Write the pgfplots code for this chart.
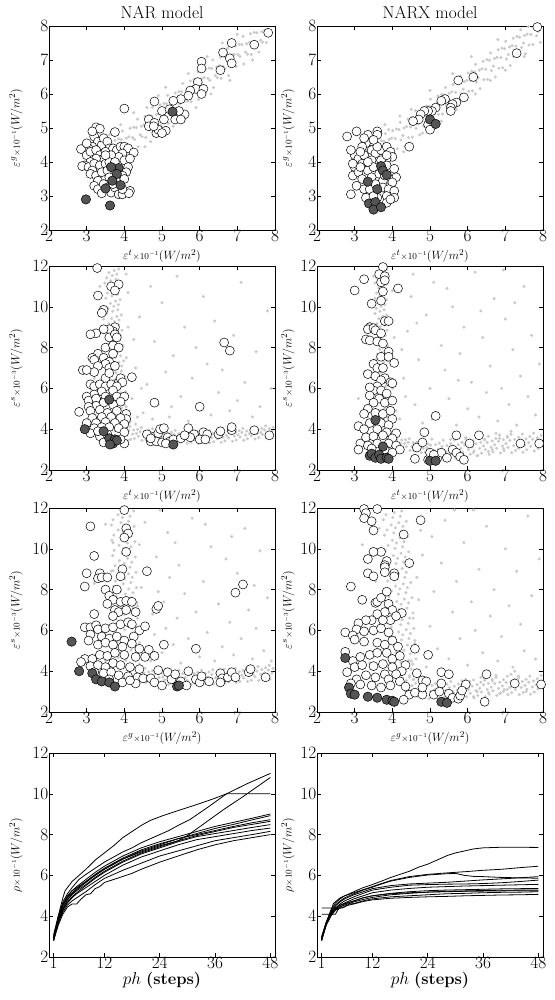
\documentclass[border=0pt]{standalone}
\usepackage{pgfplots}
\pgfplotsset{compat=1.18}
\definecolor{dotgray}{RGB}{202,202,202}
\definecolor{darkc}{RGB}{85,85,85}
\pgfplotsset{
  panel/.style={scale only axis, width=226pt, height=204pt, anchor=south west,
    axis line style={line width=0.7pt}, tick style={line width=0.5pt, black},
    major tick length=4pt, tick label style={font=\LARGE, inner sep=0.5pt},
    label style={font=\fontsize{13}{15}\selectfont, inner sep=0.5pt},
    xlabel style={at={(axis description cs:0.5,0)}, anchor=center, yshift=-26pt},
    title style={font=\LARGE, yshift=-2pt}, clip=true},
  leftcol/.style={ylabel style={at={(axis description cs:0,0.5)}, anchor=center, yshift=33pt}},
  rightcol/.style={ylabel style={at={(axis description cs:0,0.5)}, anchor=center, yshift=29pt}},
  scat/.style={panel, xmin=2, xmax=8, xtick={2,3,...,8}},
  gdot/.style={only marks, mark=*, mark size=1.35pt, color=dotgray},
  wcirc/.style={only marks, mark=*, mark size=4.5pt, mark options={fill=white, draw=black, line width=0.5pt}},
  dcirc/.style={only marks, mark=*, mark size=4.7pt, mark options={fill=darkc, draw=black, line width=0.5pt}},
  ln/.style={black, line width=0.8pt, no markers},
}
\begin{document}
\begin{tikzpicture}
\useasboundingbox (0,0) rectangle (554pt,1000pt);

% ---------------- row 1, NAR ----------------
\begin{axis}[scat, leftcol, at={(49pt,770pt)}, ymin=2, ymax=8, ytick={2,...,8},
  title={NAR model},
  xlabel={$\varepsilon^{t}{\scriptstyle\times10^{-1}}\bigl(W/m^{2}\bigr)$},
  ylabel={$\varepsilon^{g}{\scriptstyle\times10^{-1}}\bigl(W/m^{2}\bigr)$}]
\addplot[gdot] coordinates {
(3.37,3.68)(3.42,4.03)(3.45,4.33)(3.47,3.97)(3.52,4.32)(3.55,4.57)(3.57,3.75)(3.62,4.10)(3.65,4.35)
(3.67,4.04)(3.72,4.39)(3.75,4.64)(3.77,4.03)(3.82,4.38)(3.85,4.68)(3.87,4.31)(3.92,4.66)(3.95,4.91)
(3.97,4.10)(4.02,4.45)(4.05,4.70)(4.07,4.39)(4.12,4.74)(4.15,4.99)(4.17,4.37)(4.22,4.72)(4.25,5.02)
(4.27,4.66)(4.32,5.01)(4.35,5.26)(4.37,4.45)(4.42,4.80)(4.45,5.05)(4.47,4.74)(4.52,5.09)(4.55,5.34)
(4.57,4.72)(4.62,5.07)(4.65,5.37)(4.67,5.01)(4.72,5.36)(4.75,5.61)(4.77,4.80)(4.82,5.15)(4.85,5.40)
(4.87,5.08)(4.92,5.43)(4.95,5.68)(4.97,5.07)(5.02,5.42)(5.05,5.72)(5.07,5.36)(5.12,5.71)(5.15,5.96)
(5.17,5.14)(5.22,5.49)(5.25,5.74)(5.27,5.43)(5.32,5.78)(5.35,6.03)(5.37,5.42)(5.42,5.77)(5.45,6.07)
(5.47,5.71)(5.52,6.06)(5.55,6.31)(5.57,5.49)(5.62,5.84)(5.65,6.09)(5.67,5.78)(5.72,6.13)(5.75,6.38)
(5.77,5.77)(5.82,6.12)(5.85,6.42)(5.87,6.05)(5.92,6.40)(5.95,6.65)(5.97,5.84)(6.02,6.19)(6.05,6.44)
(6.07,6.13)(6.12,6.48)(6.15,6.73)(6.17,6.11)(6.22,6.46)(6.25,6.76)(6.27,6.40)(6.32,6.75)(6.35,7.00)
(6.37,6.19)(6.42,6.54)(6.45,6.79)(6.47,6.48)(6.52,6.83)(6.55,7.08)(6.57,6.46)(6.62,6.81)(6.65,7.11)
(6.67,6.75)(6.72,7.10)(6.75,7.35)(6.77,6.54)(6.82,6.89)(6.85,7.14)(6.87,6.82)(6.92,7.17)(6.95,7.42)
(6.97,6.81)(7.02,7.16)(7.05,7.46)(7.07,7.10)(7.12,7.45)(7.15,7.70)(7.17,6.88)(7.22,7.23)(7.25,7.48)
(7.27,7.17)(7.32,7.52)(7.35,7.77)(7.37,7.16)(7.42,7.51)(7.45,7.81)(7.47,7.45)(7.52,7.80)
(7.57,7.23)(7.62,7.58)(7.65,7.83)(7.67,7.52)(7.72,7.87)(7.77,7.51)(7.82,7.86)(7.87,7.79)
(3.3,4.5)(3.45,4.75)(3.2,4.1)(3.9,5.1)(4.25,5.45)(4.6,5.6)(4.55,4.45)(5.3,5.05)(5.5,5.3)(5.9,5.6)
(6.3,6.0)(4.1,4.0)(4.7,4.6)(6.8,6.4)(7.4,7.0)(5.1,6.2)(5.7,6.6)(6.2,7.1)(7.0,7.75)(3.6,4.8)(4.9,5.95)(6.6,7.5)
};
\addplot[wcirc] coordinates {
(7.82,7.8)(7.45,7.45)(6.85,7.5)(6.8,7.05)(6.85,6.9)(6.62,7.22)(6.55,6.7)(6.05,6.95)(6.05,6.75)
(5.95,6.35)(5.9,6.15)(6.1,6.15)(6.05,6.0)(5.75,6.1)(5.7,5.95)(5.5,5.85)(5.6,5.4)(5.3,5.8)(5.0,5.5)
(5.2,5.55)(5.45,5.5)(5.35,5.25)(5.5,5.25)(4.8,5.78)(4.0,5.57)(4.65,5.25)(4.65,5.05)(4.8,5.15)
(4.85,4.85)(4.9,4.95)(5.1,4.92)(5.0,4.85)(5.05,5.25)(4.78,5.05)
(3.25,5.02)(3.35,4.98)(3.2,4.75)(3.3,4.6)(3.4,4.5)(3.45,4.7)(3.55,4.6)(3.6,4.4)(3.15,4.45)(3.05,4.4)
(2.85,4.38)(3.0,4.2)(3.1,4.3)(3.25,4.35)(3.35,4.2)(3.5,4.3)(3.7,4.4)(3.8,4.35)(3.9,4.45)(4.0,4.45)
(4.1,4.4)(4.25,4.28)(3.95,4.25)(3.85,4.15)(3.65,4.2)(3.45,4.1)(3.25,4.1)(3.1,4.0)(2.95,3.9)(2.88,3.88)
(3.05,3.85)(3.2,3.95)(3.35,3.9)(3.5,3.95)(3.6,4.0)(3.75,4.0)(4.0,4.05)(4.15,4.1)(4.1,3.85)(4.05,3.7)
(3.95,3.6)(4.0,3.5)(3.15,3.75)(3.1,3.65)(3.25,3.6)(3.4,3.7)(3.55,3.75)(3.3,3.45)(3.2,3.3)(3.3,3.2)
(3.45,3.35)(3.55,3.25)(3.65,3.1)(3.4,3.08)(3.75,3.25)(3.85,3.05)(3.95,3.05)(4.15,3.15)(4.12,3.08)
(3.95,3.2)(3.75,4.88)(3.5,4.2)(3.6,3.55)(3.7,3.35)(3.0,4.55)(3.15,4.9)
};
\addplot[dcirc] coordinates {
(5.28,5.48)(3.85,3.82)(3.65,3.85)(3.8,3.65)(3.68,3.45)(3.9,3.32)(3.5,3.22)(2.98,2.9)(3.62,2.72)
};
\end{axis}

% ---------------- row 1, NARX ----------------
\begin{axis}[scat, rightcol, at={(317pt,770pt)}, ymin=2, ymax=8, ytick={2,...,8},
  title={NARX model},
  xlabel={$\varepsilon^{t}{\scriptstyle\times10^{-1}}\bigl(W/m^{2}\bigr)$},
  ylabel={$\varepsilon^{g}{\scriptstyle\times10^{-1}}\bigl(W/m^{2}\bigr)$}]
\addplot[gdot] coordinates {
(3.53,3.78)(3.48,4.10)(3.51,4.32)(3.63,4.04)(3.58,4.36)(3.61,4.58)(3.73,4.05)(3.68,4.35)(3.71,4.63)
(3.83,4.31)(3.78,4.61)(3.81,4.83)(3.93,4.12)(3.88,4.44)(3.91,4.66)(4.03,4.38)(3.98,4.70)(4.01,4.92)
(4.13,4.39)(4.08,4.69)(4.11,4.97)(4.23,4.65)(4.18,4.95)(4.21,5.17)(4.33,4.46)(4.28,4.78)(4.31,5.00)
(4.43,4.72)(4.38,5.04)(4.41,5.26)(4.53,4.73)(4.48,5.03)(4.51,5.31)(4.63,4.99)(4.58,5.29)(4.61,5.51)
(4.73,4.80)(4.68,5.12)(4.71,5.34)(4.83,5.06)(4.78,5.38)(4.81,5.60)(4.93,5.07)(4.88,5.37)(4.91,5.65)
(5.03,5.33)(4.98,5.63)(5.01,5.85)(5.13,5.14)(5.08,5.46)(5.11,5.68)(5.23,5.40)(5.18,5.72)(5.21,5.94)
(5.33,5.41)(5.28,5.71)(5.31,5.99)(5.43,5.67)(5.38,5.97)(5.41,6.19)(5.53,5.48)(5.48,5.80)(5.51,6.02)
(5.63,5.74)(5.58,6.06)(5.61,6.28)(5.73,5.75)(5.68,6.05)(5.71,6.33)(5.83,6.01)(5.78,6.31)(5.81,6.53)
(5.93,5.82)(5.88,6.14)(5.91,6.36)(6.03,6.08)(5.98,6.40)(6.01,6.62)(6.13,6.09)(6.08,6.39)(6.11,6.67)
(6.23,6.35)(6.18,6.65)(6.21,6.87)(6.33,6.16)(6.28,6.48)(6.31,6.70)(6.43,6.42)(6.38,6.74)(6.41,6.96)
(6.53,6.43)(6.48,6.73)(6.51,7.01)(6.63,6.69)(6.58,6.99)(6.61,7.21)(6.73,6.50)(6.68,6.82)(6.71,7.04)
(6.83,6.76)(6.78,7.08)(6.81,7.30)(6.93,6.77)(6.88,7.07)(6.91,7.35)(7.03,7.03)(6.98,7.33)(7.01,7.55)
(7.13,6.84)(7.08,7.16)(7.11,7.38)(7.23,7.10)(7.18,7.42)(7.21,7.64)(7.33,7.11)(7.28,7.41)(7.31,7.69)
(7.43,7.37)(7.38,7.67)(7.41,7.89)(7.53,7.18)(7.48,7.50)(7.51,7.72)(7.63,7.44)(7.58,7.76)(7.61,7.98)
(7.73,7.45)(7.68,7.75)(7.83,7.71)(7.93,7.52)(7.88,7.84)
(3.4,4.6)(3.55,4.75)(3.7,4.85)(3.9,4.95)(3.3,4.35)(4.2,5.35)(4.5,5.55)(4.3,4.3)(4.8,4.85)(5.3,5.2)
(5.7,5.55)(6.2,6.0)(6.6,6.4)(7.0,6.7)(7.5,7.1)(5.0,6.1)(5.6,6.6)(6.1,7.1)(6.8,7.6)(4.0,4.2)(3.8,5.1)
};
\addplot[wcirc] coordinates {
(7.85,7.97)(7.3,7.2)(6.15,6.5)(5.75,6.4)(5.9,5.9)(5.7,5.75)(5.6,5.7)(5.55,5.6)(5.55,5.5)(5.4,5.85)
(5.3,5.8)(5.15,5.6)(5.05,5.5)(4.95,5.5)(4.85,5.5)(4.75,5.4)(4.7,5.25)(4.55,5.2)(4.95,5.1)(5.0,4.95)
(4.45,4.45)(2.8,4.75)(3.05,4.9)(3.6,4.9)(3.6,4.8)(3.35,4.8)(3.45,4.6)(3.3,4.55)(3.2,4.45)(3.0,4.2)
(2.9,4.35)(3.1,4.1)(3.25,4.2)(3.45,4.35)(3.55,4.25)(3.7,4.35)(3.85,4.45)(3.95,4.3)(4.0,4.15)(3.85,4.1)
(3.7,4.05)(3.45,4.05)(3.2,3.95)(3.0,3.85)(2.95,3.6)(3.1,3.7)(3.35,3.75)(3.5,3.85)(3.65,3.65)(3.85,3.9)
(4.05,3.8)(4.1,3.55)(3.9,3.5)(4.0,3.4)(3.75,3.45)(3.45,3.55)(3.2,3.5)(3.05,3.3)(2.9,3.05)(3.25,3.2)
(3.4,3.2)(3.55,3.35)(3.75,3.25)(3.9,3.2)(4.05,3.15)(4.05,2.95)(3.85,3.0)(3.6,2.95)(3.3,2.95)(3.85,2.8)
(3.5,3.0)(3.95,2.9)(3.15,3.85)(3.35,4.0)(3.6,4.45)(3.85,4.2)(3.25,4.7)(3.5,4.65)(3.15,4.3)(2.95,3.95)(3.8,3.6)
};
\addplot[dcirc] coordinates {
(5.0,5.25)(5.15,5.12)(3.7,3.88)(3.75,3.75)(3.85,3.62)(3.35,3.42)(3.6,3.2)(3.38,2.78)(3.55,2.82)(3.5,2.6)(3.7,2.67)
};
\end{axis}

% ---------------- row 2, NAR ----------------
\begin{axis}[scat, leftcol, at={(49pt,530pt)}, ymin=2, ymax=12, ytick={2,4,...,12},
  xlabel={$\varepsilon^{t}{\scriptstyle\times10^{-1}}\bigl(W/m^{2}\bigr)$},
  ylabel={$\varepsilon^{s}{\scriptstyle\times10^{-3}}\bigl(W/m^{2}\bigr)$}]
\addplot[gdot] coordinates {
(3.75,3.92)(3.90,4.03)(4.02,4.10)(3.81,4.17)(3.95,4.28)(4.07,4.35)(3.69,4.42)(3.85,4.53)(3.99,4.60)
(3.73,4.67)(3.88,4.78)(4.00,4.85)(3.79,4.92)(3.93,5.03)(4.05,5.10)(3.66,5.17)(3.82,5.28)(3.96,5.35)
(3.71,5.42)(3.86,5.53)(3.98,5.60)(3.77,5.67)(3.91,5.78)(4.03,5.85)(3.64,5.92)(3.80,6.03)(3.94,6.10)
(3.68,6.17)(3.83,6.28)(3.95,6.35)(3.75,6.42)(3.89,6.53)(4.01,6.60)(3.62,6.67)(3.78,6.78)(3.92,6.85)
(3.66,6.92)(3.81,7.03)(3.93,7.10)(3.72,7.17)(3.86,7.28)(3.98,7.35)(3.60,7.42)(3.76,7.53)(3.90,7.60)
(3.64,7.67)(3.79,7.78)(3.91,7.85)(3.70,7.92)(3.84,8.03)(3.96,8.10)(3.57,8.17)(3.73,8.28)(3.87,8.35)
(3.62,8.42)(3.77,8.53)(3.89,8.60)(3.68,8.67)(3.82,8.78)(3.94,8.85)(3.55,8.92)(3.71,9.03)(3.85,9.10)
(3.59,9.17)(3.74,9.28)(3.86,9.35)(3.66,9.42)(3.80,9.53)(3.92,9.60)(3.53,9.67)(3.69,9.78)(3.83,9.85)
(3.57,9.92)(3.72,10.03)(3.84,10.10)(3.63,10.17)(3.77,10.28)(3.89,10.35)(3.51,10.42)(3.67,10.53)(3.81,10.60)
(3.55,10.67)(3.70,10.78)(3.82,10.85)(3.61,10.92)(3.75,11.03)(3.87,11.10)(3.48,11.17)(3.64,11.28)(3.78,11.35)
(3.53,11.42)(3.68,11.53)(3.80,11.60)(3.59,11.67)(3.73,11.78)(3.85,11.85)
(3.97,3.60)(4.02,3.85)(4.05,4.05)(4.07,3.71)(4.12,3.93)(4.15,4.13)(4.17,3.51)(4.22,3.76)(4.25,3.96)
(4.27,3.54)(4.32,3.79)(4.35,3.99)(4.37,3.65)(4.42,3.87)(4.45,4.07)(4.47,3.45)(4.52,3.70)(4.55,3.90)
(4.57,3.49)(4.62,3.74)(4.65,3.94)(4.67,3.60)(4.72,3.82)(4.75,4.02)(4.77,3.41)(4.82,3.66)(4.85,3.86)
(4.87,3.44)(4.92,3.69)(4.95,3.89)(4.97,3.56)(5.02,3.78)(5.05,3.98)(5.07,3.37)(5.12,3.62)(5.15,3.82)
(5.17,3.40)(5.22,3.65)(5.25,3.85)(5.27,3.52)(5.32,3.74)(5.35,3.94)(5.37,3.33)(5.42,3.58)(5.45,3.78)
(5.47,3.37)(5.52,3.62)(5.55,3.82)(5.57,3.50)(5.62,3.72)(5.65,3.92)(5.67,3.31)(5.72,3.56)(5.75,3.76)
(5.77,3.36)(5.82,3.61)(5.85,3.81)(5.87,3.48)(5.92,3.70)(5.95,3.90)(5.97,3.30)(6.02,3.55)(6.05,3.75)
(6.07,3.36)(6.12,3.61)(6.15,3.81)(6.17,3.50)(6.22,3.72)(6.25,3.92)(6.27,3.33)(6.32,3.58)(6.35,3.78)
(6.37,3.39)(6.42,3.64)(6.45,3.84)(6.47,3.53)(6.52,3.75)(6.55,3.95)(6.57,3.36)(6.62,3.61)(6.65,3.81)
(6.67,3.43)(6.72,3.68)(6.75,3.88)(6.77,3.57)(6.82,3.79)(6.85,3.99)(6.87,3.41)(6.92,3.66)(6.95,3.86)
(6.97,3.47)(7.02,3.72)(7.05,3.92)(7.07,3.62)(7.12,3.84)(7.15,4.04)(7.17,3.46)(7.22,3.71)(7.25,3.91)
(7.27,3.53)(7.32,3.78)(7.35,3.98)(7.37,3.68)(7.42,3.90)(7.45,4.10)(7.47,3.52)(7.52,3.77)(7.55,3.97)
(7.57,3.59)(7.62,3.84)(7.65,4.04)(7.67,3.74)(7.72,3.96)(7.75,4.16)(7.77,3.58)(7.82,3.83)(7.85,4.03)
(7.87,3.65)(7.92,3.90)(7.95,4.10)(4.05,4.3)(4.1,3.45)(4.15,4.35)(4.3,4.25)
(4.2,5.5)(4.3,7.0)(4.4,9.5)(4.5,4.8)(4.6,6.2)(4.7,11.0)(4.8,8.3)(4.9,5.2)(5.0,10.2)(5.1,6.8)(5.2,4.6)
(5.3,7.6)(5.4,11.5)(5.5,5.6)(5.6,9.0)(5.7,4.4)(5.8,6.5)(5.9,8.0)(6.0,5.0)(6.1,10.5)(6.2,7.2)(6.3,4.7)
(6.4,9.3)(6.5,5.8)(6.6,6.9)(6.8,4.9)(6.9,8.6)(7.0,5.4)(7.1,11.2)(7.2,6.3)(7.4,4.6)(7.5,7.8)(7.6,5.1)
(7.8,9.8)(7.9,6.0)(4.15,4.4)(4.25,8.4)(4.45,6.0)(4.1,10.7)(4.35,4.6)(3.3,7.8)(3.4,5.5)(3.45,9.4)
(3.2,6.5)(3.35,11.0)(4.05,7.5)(4.1,9.0)(4.0,5.2)(4.05,11.6)(5.25,5.1)(4.75,4.5)
};
\addplot[wcirc] coordinates {
(3.28,11.9)(3.65,11.0)(3.85,11.1)(3.75,10.8)(3.3,10.55)(3.45,9.85)(3.4,9.7)(3.75,9.0)(3.7,8.8)(3.6,8.9)
(3.45,8.9)(3.25,8.7)(3.1,8.65)(3.6,8.5)(3.75,8.65)(3.8,8.5)(3.5,8.0)(3.7,8.1)(3.85,8.0)(3.3,7.7)
(3.45,7.5)(3.15,7.5)(3.2,7.4)(3.6,7.3)(3.7,7.7)(3.5,7.2)(3.3,7.1)(3.6,7.0)(3.75,7.1)(3.2,6.8)(2.9,6.9)
(3.0,6.9)(3.5,6.5)(3.6,6.75)(3.85,6.3)(3.9,6.5)(3.95,6.3)(4.2,6.55)(3.1,6.2)(3.2,6.1)(3.35,6.2)(3.5,6.1)
(3.65,6.2)(3.8,6.1)(3.7,5.9)(3.4,5.85)(3.2,5.7)(3.0,5.6)(3.05,5.4)(3.25,5.5)(3.5,5.6)(3.8,5.6)(4.0,5.6)
(3.9,5.35)(3.7,5.2)(3.45,5.3)(3.25,5.15)(3.05,5.1)(2.8,4.85)(3.1,4.9)(3.35,4.95)(3.55,4.8)(3.8,4.9)
(4.05,4.75)(4.05,4.5)(3.9,4.55)(3.65,4.6)(3.4,4.6)(3.15,4.55)(3.0,4.3)(3.25,4.3)(3.5,4.35)(3.75,4.3)
(4.0,4.25)(3.2,4.05)(3.4,4.1)(3.1,3.8)(3.35,3.65)(3.3,3.9)(3.6,4.1)(3.85,4.05)(4.0,3.85)(3.55,3.75)
(4.0,3.3)(3.9,3.5)(3.45,3.35)(4.8,5.3)(6.65,8.25)(6.8,7.85)(6.0,5.1)
(4.6,3.75)(4.7,3.4)(4.8,3.65)(4.9,3.8)(4.95,4.0)(5.05,4.05)(4.85,3.4)(5.0,3.35)(5.15,3.6)(5.2,3.4)
(5.3,3.5)(5.5,3.55)(5.7,4.05)(5.85,3.75)(5.75,3.6)(6.1,3.85)(6.2,3.75)(6.0,3.5)(6.15,3.5)(6.5,3.75)
(6.55,3.9)(6.85,3.95)(6.85,4.1)(7.45,3.95)(7.85,3.7)(4.7,3.55)(5.1,3.3)(5.6,3.7)
};
\addplot[dcirc] coordinates {
(2.95,4.0)(3.6,5.45)(3.45,3.9)(3.6,3.55)(3.7,3.3)(3.75,3.5)(3.8,3.45)(3.62,3.25)(5.3,3.25)
};
\end{axis}

% ---------------- row 2, NARX ----------------
\begin{axis}[scat, rightcol, at={(317pt,530pt)}, ymin=2, ymax=12, ytick={2,4,...,12},
  xlabel={$\varepsilon^{t}{\scriptstyle\times10^{-1}}\bigl(W/m^{2}\bigr)$},
  ylabel={$\varepsilon^{s}{\scriptstyle\times10^{-3}}\bigl(W/m^{2}\bigr)$}]
\addplot[gdot] coordinates {
(3.81,3.17)(3.93,3.28)(4.03,3.35)(3.84,3.42)(3.95,3.53)(4.05,3.60)(3.72,3.67)(3.85,3.78)(3.96,3.85)
(3.73,3.92)(3.85,4.03)(3.95,4.10)(3.77,4.17)(3.88,4.28)(3.98,4.35)(3.64,4.42)(3.77,4.53)(3.88,4.60)
(3.66,4.67)(3.78,4.78)(3.88,4.85)(3.69,4.92)(3.80,5.03)(3.90,5.10)(3.59,5.17)(3.72,5.28)(3.83,5.35)
(3.63,5.42)(3.75,5.53)(3.85,5.60)(3.68,5.67)(3.79,5.78)(3.89,5.85)(3.58,5.92)(3.71,6.03)(3.82,6.10)
(3.62,6.17)(3.74,6.28)(3.84,6.35)(3.67,6.42)(3.78,6.53)(3.88,6.60)(3.57,6.67)(3.70,6.78)(3.81,6.85)
(3.61,6.92)(3.73,7.03)(3.83,7.10)(3.66,7.17)(3.77,7.28)(3.87,7.35)(3.56,7.42)(3.69,7.53)(3.80,7.60)
(3.60,7.67)(3.72,7.78)(3.82,7.85)(3.66,7.92)(3.77,8.03)(3.87,8.10)(3.55,8.17)(3.68,8.28)(3.79,8.35)
(3.59,8.42)(3.71,8.53)(3.81,8.60)(3.65,8.67)(3.76,8.78)(3.86,8.85)(3.55,8.92)(3.68,9.03)(3.79,9.10)
(3.59,9.17)(3.71,9.28)(3.81,9.35)(3.64,9.42)(3.75,9.53)(3.85,9.60)(3.54,9.67)(3.67,9.78)(3.78,9.85)
(3.58,9.92)(3.70,10.03)(3.80,10.10)(3.64,10.17)(3.75,10.28)(3.85,10.35)(3.54,10.42)(3.67,10.53)(3.78,10.60)
(3.58,10.67)(3.70,10.78)(3.80,10.85)(3.64,10.92)(3.75,11.03)(3.85,11.10)(3.54,11.17)(3.67,11.28)(3.78,11.35)
(3.58,11.42)(3.70,11.53)(3.80,11.60)(3.64,11.67)(3.75,11.78)(3.85,11.85)
(3.97,3.24)(4.02,3.45)(4.05,3.63)(4.07,3.28)(4.12,3.49)(4.15,3.67)(4.17,3.08)(4.22,3.29)(4.25,3.47)
(4.27,3.09)(4.32,3.30)(4.35,3.48)(4.37,3.14)(4.42,3.35)(4.45,3.53)(4.47,2.95)(4.52,3.16)(4.55,3.34)
(4.57,2.97)(4.62,3.18)(4.65,3.36)(4.67,3.03)(4.72,3.24)(4.75,3.42)(4.77,2.85)(4.82,3.06)(4.85,3.24)
(4.87,2.88)(4.92,3.09)(4.95,3.27)(4.97,2.86)(5.02,3.21)(5.05,3.51)(5.07,2.59)(5.12,2.94)(5.15,3.24)
(5.17,2.67)(5.22,3.02)(5.25,3.32)(5.27,2.81)(5.32,3.16)(5.35,3.46)(5.37,2.55)(5.42,2.90)(5.45,3.20)
(5.47,2.65)(5.52,3.00)(5.55,3.30)(5.57,2.82)(5.62,3.17)(5.65,3.47)(5.67,2.59)(5.72,2.94)(5.75,3.24)
(5.77,2.71)(5.82,3.06)(5.85,3.36)(5.87,2.88)(5.92,3.23)(5.95,3.53)(5.97,2.65)(6.02,3.00)(6.05,3.30)
(6.07,2.77)(6.12,3.12)(6.15,3.42)(6.17,2.94)(6.22,3.29)(6.25,3.59)(6.27,2.71)(6.32,3.06)(6.35,3.36)
(6.37,2.83)(6.42,3.18)(6.45,3.48)(6.47,3.00)(6.52,3.35)(6.55,3.65)(6.57,2.77)(6.62,3.12)(6.65,3.42)
(6.67,2.89)(6.72,3.24)(6.75,3.54)(6.77,3.06)(6.82,3.41)(6.85,3.71)(6.87,2.83)(6.92,3.18)(6.95,3.48)
(6.97,2.95)(7.02,3.30)(7.05,3.60)(7.07,3.10)(7.12,3.45)(7.15,3.75)(7.17,2.85)(7.22,3.20)(7.25,3.50)
(7.27,2.95)(7.32,3.30)(7.35,3.60)(7.37,3.11)(7.42,3.46)(7.45,3.76)(7.47,2.87)(7.52,3.22)(7.55,3.52)
(7.57,2.99)(7.62,3.34)(7.65,3.64)(7.67,3.16)(7.72,3.51)(7.75,3.81)(7.77,2.93)(7.82,3.28)(7.85,3.58)
(7.87,3.05)(7.92,3.40)(7.95,3.70)
(5.55,3.5)(5.75,2.75)(5.95,3.6)(6.15,2.85)(6.35,3.75)(6.55,2.9)(6.75,3.8)(6.95,3.05)(7.15,3.9)(7.35,3.05)
(6.05,3.45)(6.45,3.5)(6.85,3.55)(5.85,3.35)(6.25,2.7)(6.65,3.0)(7.05,3.65)(7.45,3.4)
(4.2,4.5)(4.3,6.5)(4.4,8.8)(4.5,10.5)(4.6,5.2)(4.7,7.4)(4.8,4.3)(4.9,9.6)(5.0,6.0)(5.1,11.2)(5.2,4.8)
(5.3,8.1)(5.4,6.9)(5.5,5.5)(5.6,10.0)(5.7,4.2)(5.8,7.7)(5.9,9.0)(6.0,5.0)(6.1,6.3)(6.2,11.7)(6.3,4.6)
(6.4,8.5)(6.5,5.8)(6.6,7.1)(6.7,10.4)(6.8,4.4)(6.9,6.0)(7.0,9.4)(7.1,5.2)(7.2,7.9)(7.3,4.2)(7.4,6.6)
(7.5,11.0)(7.6,5.6)(7.7,8.6)(7.8,4.7)(7.9,7.2)(4.25,7.9)(4.35,5.6)(4.55,11.6)(4.65,9.2)(5.05,4.5)
(5.45,10.9)(5.75,6.4)(6.35,9.8)(6.95,11.8)(7.25,10.2)(3.35,4.6)(3.25,6.8)(3.4,9.2)(3.1,5.5)(3.5,11.5)
(4.0,6.0)(4.05,8.5)(4.0,10.8)(4.1,4.9)
};
\addplot[wcirc] coordinates {
(3.0,10.8)(3.25,11.35)(3.75,11.95)(3.65,11.6)(3.8,11.5)(3.7,11.2)(3.8,11.3)(3.75,10.75)(3.7,10.3)
(4.15,10.9)(3.45,10.15)(3.8,9.3)(3.9,9.3)(3.4,9.0)(3.35,8.9)(3.5,8.95)(3.55,8.85)(3.7,8.7)(3.3,8.4)
(3.4,8.35)(3.6,8.3)(3.75,8.2)(3.9,7.8)(3.7,7.55)(3.9,7.55)(4.05,7.25)(3.5,7.2)(3.6,7.0)(3.75,7.0)
(3.35,6.7)(3.55,6.6)(3.8,6.5)(3.7,6.4)(3.95,6.3)(4.0,6.25)(3.6,6.1)(3.5,5.9)(3.7,5.9)(3.85,5.75)
(3.4,6.05)(3.4,5.65)(3.65,5.5)(3.5,5.3)(3.8,5.3)(4.0,5.4)(3.35,5.0)(3.25,4.75)(3.55,4.8)(3.75,4.75)
(3.95,4.9)(4.0,4.5)(3.1,4.15)(3.4,4.3)(3.7,4.3)(3.9,4.2)(3.25,4.0)(3.6,4.0)(3.85,3.85)(4.1,3.8)
(3.15,3.3)(3.3,3.6)(3.5,3.65)(3.75,3.7)(4.0,3.55)(3.1,3.0)(3.35,3.2)(3.6,3.3)(3.9,3.3)(4.1,3.2)
(4.2,3.0)(3.45,3.05)(3.8,3.0)(4.0,2.85)
(4.6,2.55)(4.65,3.1)(4.8,3.35)(4.85,3.85)(4.95,2.5)(5.0,2.85)(5.15,4.65)(5.2,2.6)(5.3,2.85)(5.45,2.6)
(5.6,3.0)(5.7,3.7)(5.7,2.85)(5.8,2.65)(5.9,2.5)(6.05,3.3)(6.3,3.7)(7.4,3.3)(7.9,3.3)(5.1,2.75)
};
\addplot[dcirc] coordinates {
(3.55,4.45)(3.4,2.7)(3.45,2.8)(3.55,2.6)(3.65,2.75)(3.75,3.15)(3.7,2.55)(3.85,2.6)(3.9,2.55)(5.0,2.45)(5.15,2.45)
};
\end{axis}

% ---------------- row 3, NAR ----------------
\begin{axis}[scat, leftcol, at={(49pt,288pt)}, ymin=2, ymax=12, ytick={2,4,...,12},
  xlabel={$\varepsilon^{g}{\scriptstyle\times10^{-1}}\bigl(W/m^{2}\bigr)$},
  ylabel={$\varepsilon^{s}{\scriptstyle\times10^{-3}}\bigl(W/m^{2}\bigr)$}]
\addplot[gdot] coordinates {
(3.85,3.92)(4.10,4.03)(4.30,4.10)(3.98,4.17)(4.20,4.28)(4.40,4.35)(3.79,4.42)(4.04,4.53)(4.24,4.60)
(3.84,4.67)(4.09,4.78)(4.29,4.85)(3.96,4.92)(4.18,5.03)(4.38,5.10)(3.78,5.17)(4.03,5.28)(4.23,5.35)
(3.82,5.42)(4.07,5.53)(4.27,5.60)(3.95,5.67)(4.17,5.78)(4.37,5.85)(3.76,5.92)(4.01,6.03)(4.21,6.10)
(3.81,6.17)(4.06,6.28)(4.26,6.35)(3.93,6.42)(4.15,6.53)(4.35,6.60)(3.75,6.67)(4.00,6.78)(4.20,6.85)
(3.79,6.92)(4.04,7.03)(4.24,7.10)(3.92,7.17)(4.14,7.28)(4.34,7.35)(3.73,7.42)(3.98,7.53)(4.18,7.60)
(3.78,7.67)(4.03,7.78)(4.23,7.85)(3.90,7.92)(4.12,8.03)(4.32,8.10)(3.72,8.17)(3.97,8.28)(4.17,8.35)
(3.76,8.42)(4.01,8.53)(4.21,8.60)(3.89,8.67)(4.11,8.78)(4.31,8.85)(3.70,8.92)(3.95,9.03)(4.15,9.10)
(3.75,9.17)(4.00,9.28)(4.20,9.35)(3.87,9.42)(4.09,9.53)(4.29,9.60)(3.69,9.67)(3.94,9.78)(4.14,9.85)
(3.73,9.92)(3.98,10.03)(4.18,10.10)(3.86,10.17)(4.08,10.28)(4.28,10.35)(3.67,10.42)(3.92,10.53)(4.12,10.60)
(3.72,10.67)(3.97,10.78)(4.17,10.85)(3.84,10.92)(4.06,11.03)(4.26,11.10)(3.66,11.17)(3.91,11.28)(4.11,11.35)
(3.70,11.42)(3.95,11.53)(4.15,11.60)(3.83,11.67)(4.05,11.78)(4.25,11.85)
(4.37,3.52)(4.42,3.82)(4.45,4.07)(4.47,3.65)(4.52,3.92)(4.55,4.15)(4.57,3.43)(4.62,3.73)(4.65,3.96)
(4.67,3.47)(4.72,3.77)(4.75,4.02)(4.77,3.60)(4.82,3.87)(4.85,4.10)(4.87,3.39)(4.92,3.69)(4.95,3.92)
(4.97,3.42)(5.02,3.72)(5.05,3.97)(5.07,3.57)(5.12,3.84)(5.15,4.07)(5.17,3.36)(5.22,3.66)(5.25,3.89)
(5.27,3.41)(5.32,3.71)(5.35,3.96)(5.37,3.55)(5.42,3.82)(5.45,4.05)(5.47,3.35)(5.52,3.65)(5.55,3.88)
(5.57,3.40)(5.62,3.70)(5.65,3.95)(5.67,3.55)(5.72,3.82)(5.75,4.05)(5.77,3.35)(5.82,3.65)(5.85,3.88)
(5.87,3.40)(5.92,3.70)(5.95,3.95)(5.97,3.55)(6.02,3.82)(6.05,4.05)(6.07,3.36)(6.12,3.66)(6.15,3.89)
(6.17,3.41)(6.22,3.71)(6.25,3.96)(6.27,3.57)(6.32,3.84)(6.35,4.07)(6.37,3.38)(6.42,3.68)(6.45,3.91)
(6.47,3.44)(6.52,3.74)(6.55,3.99)(6.57,3.60)(6.62,3.87)(6.65,4.10)(6.67,3.41)(6.72,3.71)(6.75,3.94)
(6.77,3.47)(6.82,3.77)(6.85,4.02)(6.87,3.63)(6.92,3.90)(6.95,4.13)(6.97,3.44)(7.02,3.74)(7.05,3.97)
(7.07,3.50)(7.12,3.80)(7.15,4.05)(7.17,3.67)(7.22,3.94)(7.25,4.17)(7.27,3.49)(7.32,3.79)(7.35,4.02)
(7.37,3.56)(7.42,3.86)(7.45,4.11)(7.47,3.73)(7.52,4.00)(7.55,4.23)(7.57,3.55)(7.62,3.85)(7.65,4.08)
(7.67,3.62)(7.72,3.92)(7.75,4.17)(7.77,3.79)(7.82,4.06)(7.85,4.29)(7.87,3.61)(7.92,3.91)(7.95,4.14)
(4.3,4.6)(4.4,5.4)(4.5,6.3)(4.35,7.2)(4.45,8.1)(4.6,9.0)(4.4,10.2)(4.55,11.3)(4.7,4.5)(4.8,5.8)
(4.75,6.8)(4.9,7.9)(4.85,9.6)(5.0,4.9)(5.1,6.1)(5.05,7.4)(5.2,8.6)(5.15,10.8)(5.3,5.3)(5.4,6.6)
(5.5,4.4)(5.45,9.2)(5.6,7.8)(5.7,5.6)(5.8,11.5)(5.9,6.9)(6.0,4.7)(6.1,8.4)(6.2,5.9)(6.3,10.1)
(6.4,4.5)(6.5,7.3)(6.6,5.2)(6.7,9.5)(6.8,6.4)(6.9,4.8)(7.0,8.8)(7.1,5.6)(7.2,11.0)(7.3,7.0)
(7.4,4.6)(7.5,6.1)(7.6,9.9)(7.7,5.0)(7.8,7.6)(7.9,4.5)(4.95,11.9)(5.35,10.3)(6.15,11.2)(6.85,10.6)
(7.45,8.2)(3.5,4.5)(3.4,5.6)(3.6,6.6)(3.55,7.7)(3.65,8.9)(3.7,10.3)(3.5,11.2)(3.3,6.1)(3.2,8.3)
};
\addplot[wcirc] coordinates {
(3.1,11.1)(3.2,9.65)(4.0,11.9)(4.05,11.0)(4.1,10.75)(4.0,10.55)(4.05,9.85)(3.0,8.8)(2.95,8.15)(3.35,8.8)
(3.3,8.55)(3.4,8.6)(3.55,8.6)(3.95,9.0)(3.9,8.65)(4.6,8.9)(3.5,8.0)(3.6,7.7)(3.7,7.5)(3.8,8.0)(3.9,7.4)
(4.05,7.45)(4.2,7.4)(3.55,7.3)(3.75,7.0)(3.85,6.9)(4.05,7.0)(4.3,6.9)(3.7,6.7)(3.2,6.8)(4.85,7.05)
(4.9,7.2)(2.95,6.15)(3.1,6.15)(3.25,6.25)(3.3,6.05)(3.5,6.1)(3.7,6.15)(3.9,6.3)(4.1,6.4)(4.2,6.3)
(4.4,6.0)(4.55,6.2)(3.1,5.8)(3.4,5.7)(3.6,5.6)(3.8,5.7)(4.0,5.5)(4.25,5.7)(3.05,5.5)(3.3,5.3)(3.5,5.4)
(3.7,5.3)(3.95,5.2)(4.2,5.35)(4.4,5.1)(4.65,5.05)(4.8,4.75)(5.05,5.3)(5.9,5.1)(2.95,4.6)(2.85,4.45)
(3.15,4.6)(3.35,4.8)(3.55,4.75)(3.75,4.9)(4.0,4.8)(4.3,4.7)(4.55,4.7)(3.1,4.25)(3.3,4.3)(3.5,4.2)
(3.7,4.4)(3.9,4.3)(4.15,4.2)(4.4,4.1)(3.2,3.95)(3.45,3.9)(3.65,3.95)(3.85,3.8)(4.1,3.75)(4.35,3.7)
(3.6,3.6)(3.95,3.45)(4.3,3.4)(4.15,3.55)
(4.5,3.65)(4.7,3.65)(4.8,3.45)(4.9,4.05)(5.0,3.3)(5.15,3.95)(5.25,3.6)(5.35,3.85)(5.5,3.5)(5.65,3.3)
(5.7,4.0)(5.9,3.6)(6.0,3.45)(6.05,3.75)(6.25,3.5)(6.55,3.9)(6.6,3.65)(6.75,3.7)(6.85,3.95)(6.95,3.7)
(7.3,3.95)(7.35,4.1)(7.75,3.7)(6.95,7.85)(7.15,8.25)(6.55,3.45)
};
\addplot[dcirc] coordinates {
(2.6,5.45)(2.8,4.0)(3.15,3.9)(3.25,3.6)(3.4,3.5)(3.6,3.45)(3.75,3.25)(5.4,3.25)(5.45,3.3)
};
\end{axis}

% ---------------- row 3, NARX ----------------
\begin{axis}[scat, rightcol, at={(317pt,288pt)}, ymin=2, ymax=12, ytick={2,4,...,12},
  xlabel={$\varepsilon^{g}{\scriptstyle\times10^{-1}}\bigl(W/m^{2}\bigr)$},
  ylabel={$\varepsilon^{s}{\scriptstyle\times10^{-3}}\bigl(W/m^{2}\bigr)$}]
\addplot[gdot] coordinates {
(4.15,3.42)(4.37,3.53)(4.57,3.60)(4.26,3.67)(4.46,3.78)(4.66,3.85)(4.05,3.92)(4.30,4.03)(4.50,4.10)
(4.12,4.17)(4.34,4.28)(4.54,4.35)(4.23,4.42)(4.43,4.53)(4.63,4.60)(4.02,4.67)(4.27,4.78)(4.47,4.85)
(4.09,4.92)(4.31,5.03)(4.51,5.10)(4.20,5.17)(4.40,5.28)(4.60,5.35)(3.99,5.42)(4.24,5.53)(4.44,5.60)
(4.06,5.67)(4.28,5.78)(4.48,5.85)(4.17,5.92)(4.37,6.03)(4.57,6.10)(3.97,6.17)(4.22,6.28)(4.42,6.35)
(4.04,6.42)(4.26,6.53)(4.46,6.60)(4.15,6.67)(4.35,6.78)(4.55,6.85)(3.94,6.92)(4.19,7.03)(4.39,7.10)
(4.01,7.17)(4.23,7.28)(4.43,7.35)(4.12,7.42)(4.32,7.53)(4.52,7.60)(3.91,7.67)(4.16,7.78)(4.36,7.85)
(3.98,7.92)(4.20,8.03)(4.40,8.10)(4.09,8.17)(4.29,8.28)(4.49,8.35)(3.88,8.42)(4.13,8.53)(4.33,8.60)
(3.95,8.67)(4.17,8.78)(4.37,8.85)(4.06,8.92)(4.26,9.03)(4.46,9.10)(3.85,9.17)(4.10,9.28)(4.30,9.35)
(3.92,9.42)(4.14,9.53)(4.34,9.60)(4.03,9.67)(4.23,9.78)(4.43,9.85)(3.82,9.92)(4.07,10.03)(4.27,10.10)
(3.89,10.17)(4.11,10.28)(4.31,10.35)(4.00,10.42)(4.20,10.53)(4.40,10.60)(3.79,10.67)(4.04,10.78)(4.24,10.85)
(3.86,10.92)(4.08,11.03)(4.28,11.10)(3.97,11.17)(4.17,11.28)(4.37,11.35)(3.76,11.42)(4.01,11.53)(4.21,11.60)
(3.83,11.67)(4.05,11.78)(4.25,11.85)
(4.47,2.95)(4.52,3.30)(4.55,3.60)(4.57,3.06)(4.62,3.41)(4.65,3.71)(4.67,2.77)(4.72,3.12)(4.75,3.42)
(4.77,2.83)(4.82,3.18)(4.85,3.48)(4.87,2.94)(4.92,3.29)(4.95,3.59)(4.97,2.65)(5.02,3.00)(5.05,3.30)
(5.07,2.74)(5.12,3.09)(5.15,3.39)(5.17,2.88)(5.22,3.23)(5.25,3.53)(5.27,2.62)(5.32,2.97)(5.35,3.27)
(5.37,2.71)(5.42,3.06)(5.45,3.36)(5.47,2.85)(5.52,3.20)(5.55,3.50)(5.57,2.61)(5.62,2.96)(5.65,3.26)
(5.67,2.72)(5.72,3.07)(5.75,3.37)(5.77,2.88)(5.82,3.23)(5.85,3.53)(5.87,2.64)(5.92,2.99)(5.95,3.29)
(5.97,2.75)(6.02,3.10)(6.05,3.40)(6.07,2.92)(6.12,3.27)(6.15,3.57)(6.17,2.69)(6.22,3.04)(6.25,3.34)
(6.27,2.81)(6.32,3.16)(6.35,3.46)(6.37,2.98)(6.42,3.33)(6.45,3.63)(6.47,2.75)(6.52,3.10)(6.55,3.40)
(6.57,2.87)(6.62,3.22)(6.65,3.52)(6.67,3.04)(6.72,3.39)(6.75,3.69)(6.77,2.81)(6.82,3.16)(6.85,3.46)
(6.87,2.93)(6.92,3.28)(6.95,3.58)(6.97,3.10)(7.02,3.45)(7.05,3.75)(7.07,2.85)(7.12,3.20)(7.15,3.50)
(7.17,2.95)(7.22,3.30)(7.25,3.60)(7.27,3.10)(7.32,3.45)(7.35,3.75)(7.37,2.85)(7.42,3.20)(7.45,3.50)
(7.47,2.95)(7.52,3.30)(7.55,3.60)(7.57,3.11)(7.62,3.46)(7.65,3.76)(7.67,2.87)(7.72,3.22)(7.75,3.52)
(7.77,2.98)(7.82,3.33)(7.85,3.63)(7.87,3.14)(7.92,3.49)(7.95,3.79)
(5.55,3.7)(5.75,2.8)(5.95,3.6)(6.15,2.75)(6.35,3.7)(6.55,2.95)(6.75,3.8)(6.95,3.0)(7.15,3.85)(6.05,3.5)
(6.45,3.55)(6.85,2.9)(5.85,3.35)(6.25,3.0)(6.65,3.6)(7.05,3.1)(7.35,3.65)(7.55,3.0)
(4.4,3.3)(4.45,3.7)(4.35,3.0)(4.55,3.9)
(4.5,4.5)(4.6,5.5)(4.55,6.6)(4.7,7.5)(4.65,8.6)(4.8,9.7)(4.75,10.9)(4.9,4.2)(5.0,6.2)(5.1,7.9)
(5.2,5.1)(5.3,9.3)(5.4,11.4)(5.5,4.6)(5.6,6.9)(5.7,8.4)(5.8,5.6)(5.9,10.3)(6.0,4.3)(6.1,7.4)
(6.2,6.0)(6.3,9.0)(6.4,4.9)(6.5,11.1)(6.6,6.7)(6.7,8.0)(6.8,4.5)(6.9,5.7)(7.0,10.0)(7.1,7.2)
(7.2,4.2)(7.3,8.9)(7.4,6.3)(7.5,5.0)(7.6,11.6)(7.7,7.7)(7.8,4.6)(7.9,9.5)(5.05,10.6)(5.65,11.9)
(6.15,11.9)(5.35,4.0)(6.55,4.0)(7.25,4.0)(3.4,4.4)(3.5,5.8)(3.6,7.2)(3.55,8.4)(3.7,9.8)(3.65,11.0)
(3.3,6.4)(3.2,10.2)
};
\addplot[wcirc] coordinates {
(3.25,11.95)(3.3,11.75)(3.25,11.5)(3.6,11.95)(3.45,11.35)(3.5,10.9)(4.3,10.7)(4.75,11.4)(3.7,9.85)
(3.5,9.85)(3.35,9.5)(3.85,9.4)(3.8,9.2)(3.8,9.1)(4.05,8.8)(4.05,8.65)(3.35,8.8)(3.5,8.65)(3.8,8.85)
(4.45,9.3)(2.9,8.15)(3.2,7.5)(3.55,7.35)(3.6,7.4)(3.7,7.6)(3.85,7.9)(3.9,7.3)(4.0,7.0)(3.8,6.9)
(4.25,6.85)(3.6,6.8)(3.45,6.5)(3.3,6.5)(3.1,6.35)(3.05,6.05)(3.25,5.95)(3.5,6.0)(3.7,6.1)(3.9,5.9)
(3.95,6.5)(3.75,6.5)(4.1,6.7)(2.75,5.9)(2.95,5.75)(3.0,5.55)(3.25,5.45)(3.6,5.4)(3.8,5.3)(4.0,5.5)
(4.15,5.2)(4.6,5.1)(4.95,4.8)(2.75,4.95)(2.95,4.5)(3.15,4.7)(3.4,4.8)(3.6,4.9)(3.85,4.9)(4.0,4.6)
(4.2,4.75)(4.35,4.3)(2.8,3.95)(3.0,4.2)(3.2,4.3)(3.5,4.25)(3.75,4.35)(4.0,4.2)(4.25,4.0)(4.1,3.85)
(3.05,3.6)(3.3,3.8)(3.55,3.7)(3.8,3.85)(3.9,3.6)(4.2,3.5)(2.9,3.4)(3.15,3.35)(3.45,3.3)(3.7,3.2)
(3.95,3.3)(4.35,3.25)(4.45,2.85)(4.3,2.6)(4.6,2.95)(4.8,3.55)(4.9,3.5)(4.8,2.85)(4.8,3.2)(4.65,3.9)
(5.1,2.85)(5.3,3.4)(5.25,3.0)(5.3,3.95)(5.5,3.85)(5.5,2.9)(5.6,2.7)(5.75,2.65)(5.8,2.8)(5.95,3.35)
(5.85,3.05)(6.5,3.85)(6.45,2.5)(7.25,3.4)(7.95,3.35)
};
\addplot[dcirc] coordinates {
(2.75,4.65)(2.85,3.2)(2.9,2.9)(3.0,2.85)(3.35,2.75)(3.6,2.7)(3.85,2.6)(4.0,2.55)(4.05,2.5)(5.3,2.5)(5.45,2.45)
};
\end{axis}

% ---------------- row 4, NAR ----------------
\begin{axis}[panel, leftcol, at={(49pt,43pt)}, xmin=0, xmax=49, xtick={1,12,24,36,48},
  ymin=2, ymax=12, ytick={2,4,...,12},
  xlabel={$ph$ \textbf{(steps)}}, xlabel style={font=\fontsize{16.5}{18}\selectfont, yshift=3pt},
  ylabel={$\rho{\scriptstyle\times10^{-1}}\bigl(W/m^{2}\bigr)$}]
\addplot[ln] coordinates {(1,2.85)(2,4.0)(3,4.9)(3.5,5.25)(5,5.7)(6.5,6.0)(8,6.3)(10,6.75)(12,7.1)(14,7.45)(16,7.85)(18,8.15)(20,8.45)(22,8.7)(24.7,8.93)(28.3,9.2)(32,9.47)(35.6,9.75)(38.5,10.0)(43,10.5)(48,11.0)};
\addplot[ln] coordinates {(1,2.9)(2,3.9)(3,4.7)(4,5.1)(5,5.4)(6.5,5.8)(8,6.05)(10,6.35)(12,6.65)(14,6.9)(16,7.15)(18,7.35)(20,7.6)(22,7.8)(24,8.0)(26,8.2)(28,8.45)(30.5,8.73)(34.5,9.35)(38.5,10.0)(48,10.0)};
\addplot[ln] coordinates {(1,2.8)(2,3.7)(3,4.35)(4,4.8)(5,5.1)(6,5.3)(8,5.65)(10,6.0)(12,6.3)(16,6.8)(20,7.15)(24,7.45)(28,7.7)(30,7.95)(34,8.6)(38,9.25)(42,9.85)(48,10.8)};
\addplot[ln] coordinates {(1,3.0)(2,3.9)(3,4.55)(4,4.95)(5,5.25)(6,5.45)(8,5.8)(10,6.15)(12,6.45)(16,6.95)(20,7.35)(24,7.65)(28,7.9)(32,8.15)(36,8.4)(40,8.6)(44,8.8)(48,9.01)};
\addplot[ln] coordinates {(1,2.9)(2,3.85)(3,4.5)(4,4.9)(5,5.15)(6,5.35)(8,5.7)(10,6.05)(12,6.35)(16,6.85)(20,7.25)(24,7.55)(28,7.8)(32,8.05)(36,8.3)(40,8.5)(44,8.72)(48,8.93)};
\addplot[ln] coordinates {(1,3.1)(2,4.0)(3,4.6)(4,5.0)(5,5.25)(6,5.4)(8,5.7)(10,6.0)(12,6.3)(16,6.8)(20,7.2)(24,7.5)(28,7.8)(32,8.0)(36,8.2)(40,8.4)(44,8.58)(48,8.73)};
\addplot[ln] coordinates {(1,2.95)(2,3.8)(3,4.4)(4,4.8)(5,5.05)(6,5.25)(8,5.55)(10,5.9)(12,6.2)(16,6.7)(20,7.1)(24,7.4)(28,7.7)(32,7.95)(36,8.15)(40,8.35)(44,8.5)(48,8.65)};
\addplot[ln] coordinates {(1,2.85)(2,3.7)(3,4.3)(4,4.7)(5,4.95)(6,5.15)(8,5.5)(10,5.85)(12,6.15)(16,6.65)(20,7.05)(24,7.35)(28,7.65)(32,7.9)(36,8.05)(40,8.2)(44,8.35)(48,8.49)};
\addplot[ln] coordinates {(1,3.0)(2,3.75)(3,4.3)(4,4.65)(5,4.9)(6,5.1)(8,5.4)(10,5.7)(12,6.0)(16,6.5)(20,6.9)(24,7.2)(28,7.5)(32,7.75)(36,7.9)(40,8.05)(44,8.2)(48,8.32)};
\addplot[ln] coordinates {(1,2.9)(2,3.65)(3,4.2)(4,4.55)(5,4.75)(6,4.9)(8,5.2)(10,5.55)(12,5.85)(16,6.25)(20,6.6)(24,6.95)(28,7.2)(32,7.45)(36,7.7)(40,7.85)(44,8.0)(48,8.16)};
\addplot[ln] coordinates {(1,2.8)(2,3.55)(3,4.1)(4,4.45)(5,4.6)(6,4.6)(7,4.85)(8,5.05)(9,5.1)(10,5.35)(11,5.45)(12,5.65)(14,5.8)(16,5.95)(18,6.1)(20,6.3)(24,6.65)(28,6.95)(32,7.25)(36,7.5)(40,7.7)(44,7.85)(48,8.0)};
\end{axis}

% ---------------- row 4, NARX ----------------
\begin{axis}[panel, rightcol, at={(317pt,43pt)}, xmin=0, xmax=49, xtick={1,12,24,36,48},
  ymin=2, ymax=12, ytick={2,4,...,12},
  xlabel={$ph$ \textbf{(steps)}}, xlabel style={font=\fontsize{16.5}{18}\selectfont, yshift=3pt},
  ylabel={$\rho{\scriptstyle\times10^{-1}}\bigl(W/m^{2}\bigr)$}]
\addplot[ln] coordinates {(1,2.8)(2,3.6)(3,4.25)(3.55,4.62)(5,4.9)(6.5,5.05)(8,5.2)(10,5.4)(12,5.55)(14,5.72)(16,5.9)(18,6.05)(20,6.2)(22,6.4)(24,6.55)(26,6.75)(28.3,6.98)(30,7.1)(32,7.2)(34,7.3)(36,7.35)(40,7.38)(44,7.38)(48,7.37)};
\addplot[ln] coordinates {(1,2.9)(2,3.7)(3,4.3)(4,4.65)(5,4.85)(6,5.0)(8,5.15)(10,5.3)(12,5.45)(14,5.6)(16,5.75)(20,5.94)(24,6.05)(28,6.12)(32,6.18)(36,6.25)(40,6.3)(44,6.38)(48,6.45)};
\addplot[ln] coordinates {(1,2.85)(2,3.65)(3,4.2)(4,4.55)(5,4.75)(6,4.9)(8,5.1)(10,5.28)(12,5.42)(14,5.58)(16,5.72)(20,5.9)(24,6.02)(28,6.08)(30,6.1)(32,6.0)(34,5.95)(36,5.94)(40,5.9)(44,5.88)(48,5.86)};
\addplot[ln] coordinates {(1,2.95)(2,3.7)(3,4.2)(4,4.5)(5,4.7)(6,4.85)(8,5.05)(10,5.2)(12,5.35)(16,5.5)(20,5.58)(24,5.62)(28,5.66)(32,5.72)(36,5.78)(40,5.83)(44,5.88)(48,5.94)};
\addplot[ln] coordinates {(1,2.8)(2,3.6)(3,4.1)(4,4.4)(5,4.6)(6,4.75)(8,4.95)(10,5.12)(12,5.28)(16,5.42)(20,5.52)(24,5.55)(28,5.57)(32,5.58)(36,5.6)(40,5.64)(44,5.7)(48,5.77)};
\addplot[ln] coordinates {(1,2.9)(2,3.65)(3,4.1)(4,4.35)(5,4.52)(6,4.65)(8,4.85)(10,5.0)(12,5.15)(16,5.28)(20,5.36)(24,5.42)(28,5.45)(32,5.48)(36,5.5)(40,5.52)(44,5.54)(48,5.56)};
\addplot[ln] coordinates {(1,3.0)(2,3.7)(3,4.15)(4,4.4)(5,4.55)(6,4.62)(8,4.75)(10,4.9)(12,5.0)(16,5.12)(20,5.2)(24,5.25)(28,5.28)(32,5.3)(36,5.32)(40,5.34)(44,5.35)(48,5.36)};
\addplot[ln] coordinates {(1,2.85)(2,3.55)(3,4.0)(4,4.3)(5,4.45)(6,4.55)(8,4.7)(10,4.82)(12,4.92)(16,5.05)(20,5.12)(24,5.18)(28,5.22)(32,5.24)(36,5.26)(40,5.27)(44,5.28)(48,5.28)};
\addplot[ln] coordinates {(1,2.95)(2,3.6)(3,4.05)(4,4.3)(5,4.4)(6,4.45)(7,4.6)(8,4.62)(10,4.75)(12,4.85)(16,4.95)(20,5.0)(24,5.05)(28,5.1)(32,5.12)(36,5.15)(40,5.17)(44,5.18)(48,5.2)};
\addplot[ln] coordinates {(1,4.4)(5.5,4.4)(6,4.5)(8,4.6)(10,4.72)(12,4.8)(16,4.88)(20,4.92)(24,4.95)(28,4.97)(32,5.0)(36,5.02)(40,5.04)(44,5.05)(48,5.07)};
\addplot[ln] coordinates {(1,4.1)(4,4.1)(4.5,4.3)(5,4.45)(6,4.6)(8,4.75)(10,4.9)(12,5.0)(16,5.1)(20,5.15)(24,5.18)(28,5.2)(32,5.22)(36,5.23)(40,5.24)(44,5.25)(48,5.25)};
\end{axis}
\end{tikzpicture}
\end{document}
